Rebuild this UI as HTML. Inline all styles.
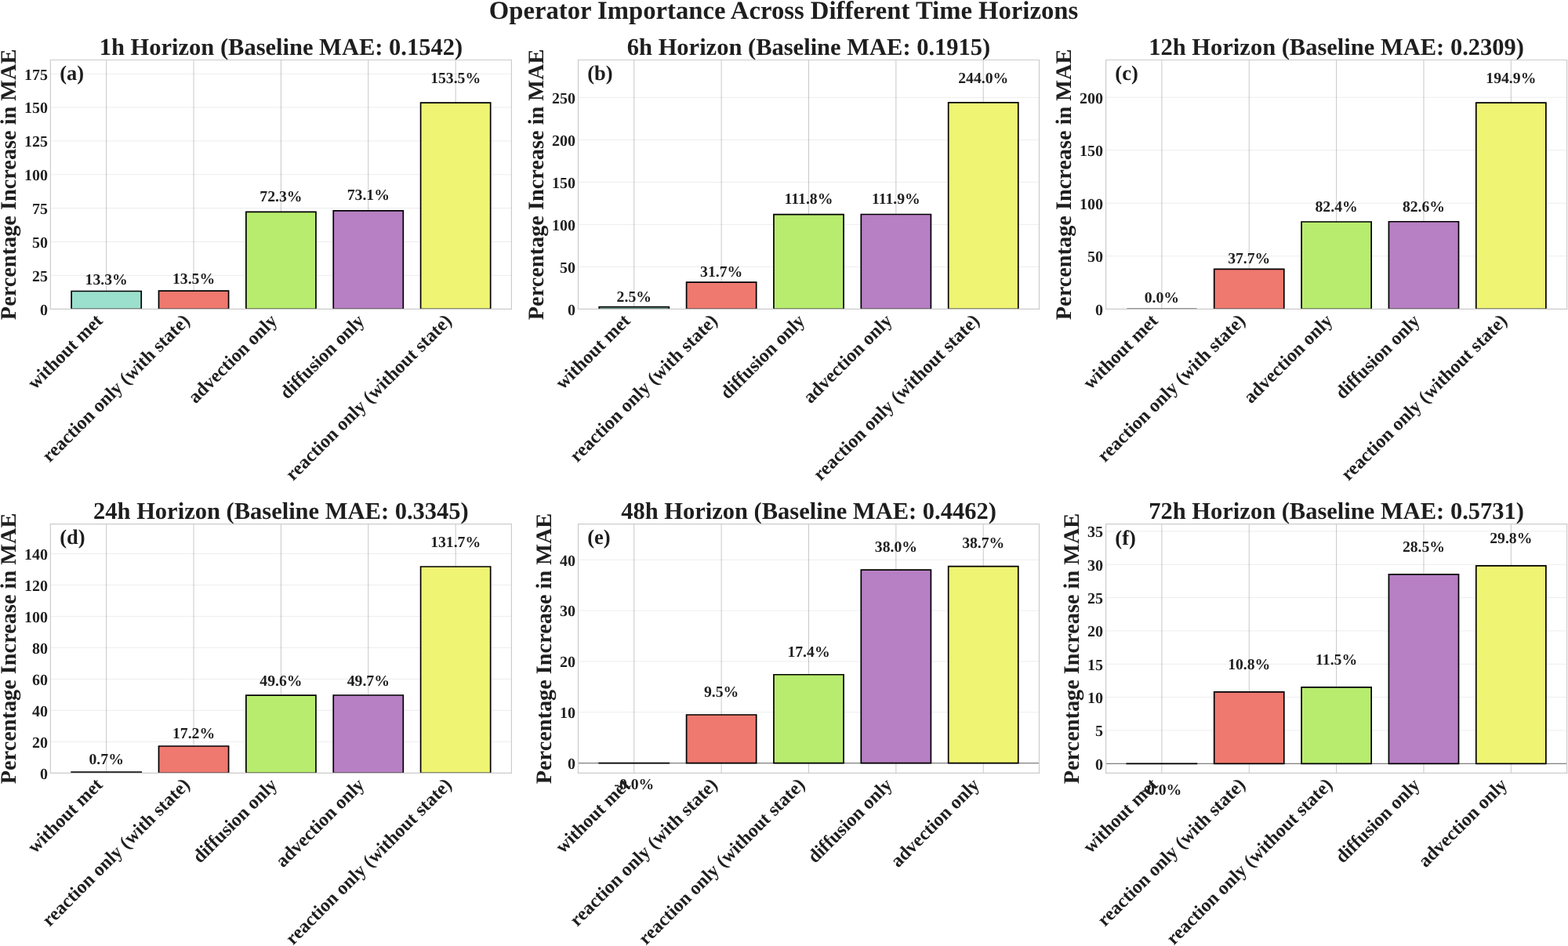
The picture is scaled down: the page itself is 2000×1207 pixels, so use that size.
<!DOCTYPE html>
<html><head><meta charset="utf-8"><title>Operator Importance Across Different Time Horizons</title>
<style>html,body{margin:0;padding:0;background:#fff;overflow:hidden;width:2000px;height:1207px;}svg{display:block;}
text{font-family:"Liberation Serif",serif;text-rendering:geometricPrecision;}</style></head>
<body>
<svg width="2000" height="1207" viewBox="0 0 2000 1207" version="1.1">
<defs>
<style type="text/css">*{stroke-linejoin: round; stroke-linecap: butt}</style>
</defs>
<g id="figure_1">
<g id="patch_1">
<path d="M 0 1207  L 2000 1207  L 2000 0  L 0 0  z
" style="fill: #ffffff"/>
</g>
<g id="axes_1">
<g id="patch_2">
<path d="M 64.4 394.3  L 652.4 394.3  L 652.4 76.5  L 64.4 76.5  z
" style="fill: #ffffff"/>
</g>
<g id="matplotlib.axis_1">
<g id="xtick_1">
<g id="line2d_1">
<path d="M 135.672727 394.3  L 135.672727 76.5  " clip-path="url(#p8fc269b6f9)" style="fill: none; stroke: #c8c8c8; stroke-linecap: square"/>
</g>
<g id="line2d_2"/>
<g id="text_1">
<text style="font-weight: 700; font-size: 24px; font-family: 'Liberation Serif', serif; fill: #1e1e1e" transform="translate(44.864307 497.770201) rotate(-45)">without met</text>
</g>
</g>
<g id="xtick_2">
<g id="line2d_3">
<path d="M 247.036364 394.3  L 247.036364 76.5  " clip-path="url(#p8fc269b6f9)" style="fill: none; stroke: #c8c8c8; stroke-linecap: square"/>
</g>
<g id="line2d_4"/>
<g id="text_2">
<text style="font-weight: 700; font-size: 24px; font-family: 'Liberation Serif', serif; fill: #1e1e1e" transform="translate(63.162968 590.787446) rotate(-45)">reaction only (with state)</text>
</g>
</g>
<g id="xtick_3">
<g id="line2d_5">
<path d="M 358.4 394.3  L 358.4 76.5  " clip-path="url(#p8fc269b6f9)" style="fill: none; stroke: #c8c8c8; stroke-linecap: square"/>
</g>
<g id="line2d_6"/>
<g id="text_3">
<text style="font-weight: 700; font-size: 24px; font-family: 'Liberation Serif', serif; fill: #1e1e1e" transform="translate(249.610738 515.703312) rotate(-45)">advection only</text>
</g>
</g>
<g id="xtick_4">
<g id="line2d_7">
<path d="M 469.763636 394.3  L 469.763636 76.5  " clip-path="url(#p8fc269b6f9)" style="fill: none; stroke: #c8c8c8; stroke-linecap: square"/>
</g>
<g id="line2d_8"/>
<g id="text_4">
<text style="font-weight: 700; font-size: 24px; font-family: 'Liberation Serif', serif; fill: #1e1e1e" transform="translate(366.603828 510.246216) rotate(-45)">diffusion only</text>
</g>
</g>
<g id="xtick_5">
<g id="line2d_9">
<path d="M 581.127273 394.3  L 581.127273 76.5  " clip-path="url(#p8fc269b6f9)" style="fill: none; stroke: #c8c8c8; stroke-linecap: square"/>
</g>
<g id="line2d_10"/>
<g id="text_5">
<text style="font-weight: 700; font-size: 24px; font-family: 'Liberation Serif', serif; fill: #1e1e1e" transform="translate(373.680705 614.360618) rotate(-45)">reaction only (without state)</text>
</g>
</g>
</g>
<g id="matplotlib.axis_2">
<g id="ytick_1">
<g id="line2d_11">
<path d="M 64.4 394.3  L 652.4 394.3  " clip-path="url(#p8fc269b6f9)" style="fill: none; stroke: #000000; stroke-opacity: 0.075; stroke-linecap: square"/>
</g>
<g id="line2d_12"/>
<g id="text_6">
<text style="font-weight: 700; font-size: 20px; font-family: 'Liberation Serif', serif; text-anchor: end; fill: #1e1e1e" x="60.9" y="401.739063" transform="rotate(-0 60.9 401.739063)">0</text>
</g>
</g>
<g id="ytick_2">
<g id="line2d_13">
<path d="M 64.4 351.423583  L 652.4 351.423583  " clip-path="url(#p8fc269b6f9)" style="fill: none; stroke: #000000; stroke-opacity: 0.075; stroke-linecap: square"/>
</g>
<g id="line2d_14"/>
<g id="text_7">
<text style="font-weight: 700; font-size: 20px; font-family: 'Liberation Serif', serif; text-anchor: end; fill: #1e1e1e" x="60.9" y="358.862646" transform="rotate(-0 60.9 358.862646)">25</text>
</g>
</g>
<g id="ytick_3">
<g id="line2d_15">
<path d="M 64.4 308.547167  L 652.4 308.547167  " clip-path="url(#p8fc269b6f9)" style="fill: none; stroke: #000000; stroke-opacity: 0.075; stroke-linecap: square"/>
</g>
<g id="line2d_16"/>
<g id="text_8">
<text style="font-weight: 700; font-size: 20px; font-family: 'Liberation Serif', serif; text-anchor: end; fill: #1e1e1e" x="60.9" y="315.986229" transform="rotate(-0 60.9 315.986229)">50</text>
</g>
</g>
<g id="ytick_4">
<g id="line2d_17">
<path d="M 64.4 265.67075  L 652.4 265.67075  " clip-path="url(#p8fc269b6f9)" style="fill: none; stroke: #000000; stroke-opacity: 0.075; stroke-linecap: square"/>
</g>
<g id="line2d_18"/>
<g id="text_9">
<text style="font-weight: 700; font-size: 20px; font-family: 'Liberation Serif', serif; text-anchor: end; fill: #1e1e1e" x="60.9" y="273.109813" transform="rotate(-0 60.9 273.109813)">75</text>
</g>
</g>
<g id="ytick_5">
<g id="line2d_19">
<path d="M 64.4 222.794334  L 652.4 222.794334  " clip-path="url(#p8fc269b6f9)" style="fill: none; stroke: #000000; stroke-opacity: 0.075; stroke-linecap: square"/>
</g>
<g id="line2d_20"/>
<g id="text_10">
<text style="font-weight: 700; font-size: 20px; font-family: 'Liberation Serif', serif; text-anchor: end; fill: #1e1e1e" x="60.9" y="230.233396" transform="rotate(-0 60.9 230.233396)">100</text>
</g>
</g>
<g id="ytick_6">
<g id="line2d_21">
<path d="M 64.4 179.917917  L 652.4 179.917917  " clip-path="url(#p8fc269b6f9)" style="fill: none; stroke: #000000; stroke-opacity: 0.075; stroke-linecap: square"/>
</g>
<g id="line2d_22"/>
<g id="text_11">
<text style="font-weight: 700; font-size: 20px; font-family: 'Liberation Serif', serif; text-anchor: end; fill: #1e1e1e" x="60.9" y="187.356979" transform="rotate(-0 60.9 187.356979)">125</text>
</g>
</g>
<g id="ytick_7">
<g id="line2d_23">
<path d="M 64.4 137.0415  L 652.4 137.0415  " clip-path="url(#p8fc269b6f9)" style="fill: none; stroke: #000000; stroke-opacity: 0.075; stroke-linecap: square"/>
</g>
<g id="line2d_24"/>
<g id="text_12">
<text style="font-weight: 700; font-size: 20px; font-family: 'Liberation Serif', serif; text-anchor: end; fill: #1e1e1e" x="60.9" y="144.480563" transform="rotate(-0 60.9 144.480563)">150</text>
</g>
</g>
<g id="ytick_8">
<g id="line2d_25">
<path d="M 64.4 94.165084  L 652.4 94.165084  " clip-path="url(#p8fc269b6f9)" style="fill: none; stroke: #000000; stroke-opacity: 0.075; stroke-linecap: square"/>
</g>
<g id="line2d_26"/>
<g id="text_13">
<text style="font-weight: 700; font-size: 20px; font-family: 'Liberation Serif', serif; text-anchor: end; fill: #1e1e1e" x="60.9" y="101.604146" transform="rotate(-0 60.9 101.604146)">175</text>
</g>
</g>
<g id="text_14">
<text style="font-weight: 700; font-size: 28.3px; font-family: 'Liberation Serif', serif; text-anchor: middle; fill: #1e1e1e" x="19.851891" y="235.4" transform="rotate(-90 19.851891 235.4)">Percentage Increase in MAE</text>
</g>
</g>
<g id="patch_3">
<path d="M 91.127273 394.3  L 180.218182 394.3  L 180.218182 371.489746  L 91.127273 371.489746  z
" clip-path="url(#p8fc269b6f9)" style="fill: #9be0cd; stroke: #000000; stroke-width: 1.7; stroke-linejoin: miter"/>
</g>
<g id="patch_4">
<path d="M 202.490909 394.3  L 291.581818 394.3  L 291.581818 371.146735  L 202.490909 371.146735  z
" clip-path="url(#p8fc269b6f9)" style="fill: #ef786f; stroke: #000000; stroke-width: 1.7; stroke-linejoin: miter"/>
</g>
<g id="patch_5">
<path d="M 313.854545 394.3  L 402.945455 394.3  L 402.945455 270.301403  L 313.854545 270.301403  z
" clip-path="url(#p8fc269b6f9)" style="fill: #b8ec6e; stroke: #000000; stroke-width: 1.7; stroke-linejoin: miter"/>
</g>
<g id="patch_6">
<path d="M 425.218182 394.3  L 514.309091 394.3  L 514.309091 268.929358  L 425.218182 268.929358  z
" clip-path="url(#p8fc269b6f9)" style="fill: #b77fc4; stroke: #000000; stroke-width: 1.7; stroke-linejoin: miter"/>
</g>
<g id="patch_7">
<path d="M 536.581818 394.3  L 625.672727 394.3  L 625.672727 131.038802  L 536.581818 131.038802  z
" clip-path="url(#p8fc269b6f9)" style="fill: #eff473; stroke: #000000; stroke-width: 1.7; stroke-linejoin: miter"/>
</g>
<g id="text_15">
<text style="font-weight: 700; font-size: 26.5px; font-family: 'Liberation Serif', serif; text-anchor: start; fill: #1e1e1e" x="76.16" y="102.244516" transform="rotate(-0 76.16 102.244516)">(a)</text>
</g>
<g id="text_16">
<text style="font-weight: 700; font-size: 19.7px; font-family: 'Liberation Serif', serif; text-anchor: middle; fill: #1e1e1e" x="135.672727" y="362.549092" transform="rotate(-0 135.672727 362.549092)">13.3%</text>
</g>
<g id="text_17">
<text style="font-weight: 700; font-size: 19.7px; font-family: 'Liberation Serif', serif; text-anchor: middle; fill: #1e1e1e" x="247.036364" y="362.206081" transform="rotate(-0 247.036364 362.206081)">13.5%</text>
</g>
<g id="text_18">
<text style="font-weight: 700; font-size: 19.7px; font-family: 'Liberation Serif', serif; text-anchor: middle; fill: #1e1e1e" x="358.4" y="256.586031" transform="rotate(-0 358.4 256.586031)">72.3%</text>
</g>
<g id="text_19">
<text style="font-weight: 700; font-size: 19.7px; font-family: 'Liberation Serif', serif; text-anchor: middle; fill: #1e1e1e" x="469.763636" y="255.104222" transform="rotate(-0 469.763636 255.104222)">73.1%</text>
</g>
<g id="text_20">
<text style="font-weight: 700; font-size: 19.7px; font-family: 'Liberation Serif', serif; text-anchor: middle; fill: #1e1e1e" x="581.127273" y="106.182422" transform="rotate(-0 581.127273 106.182422)">153.5%</text>
</g>
<g id="patch_8">
<path d="M 64.4 394.3  L 64.4 76.5  " style="fill: none; stroke: #cccccc; stroke-width: 1.2; stroke-linejoin: miter; stroke-linecap: square"/>
</g>
<g id="patch_9">
<path d="M 652.4 394.3  L 652.4 76.5  " style="fill: none; stroke: #cccccc; stroke-width: 1.2; stroke-linejoin: miter; stroke-linecap: square"/>
</g>
<g id="patch_10">
<path d="M 64.4 394.3  L 652.4 394.3  " style="fill: none; stroke: #cccccc; stroke-width: 1.2; stroke-linejoin: miter; stroke-linecap: square"/>
</g>
<g id="patch_11">
<path d="M 64.4 76.5  L 652.4 76.5  " style="fill: none; stroke: #cccccc; stroke-width: 1.2; stroke-linejoin: miter; stroke-linecap: square"/>
</g>
<g id="text_21">
<text style="font-weight: 700; font-size: 30.5px; font-family: 'Liberation Serif', serif; text-anchor: middle; fill: #1e1e1e" x="358.4" y="70.004453" transform="rotate(-0 358.4 70.004453)">1h Horizon (Baseline MAE: 0.1542)</text>
</g>
</g>
<g id="axes_2">
<g id="patch_12">
<path d="M 737.5 394.3  L 1325.5 394.3  L 1325.5 76.5  L 737.5 76.5  z
" style="fill: #ffffff"/>
</g>
<g id="matplotlib.axis_3">
<g id="xtick_6">
<g id="line2d_27">
<path d="M 808.772727 394.3  L 808.772727 76.5  " clip-path="url(#p56052e3ebc)" style="fill: none; stroke: #c8c8c8; stroke-linecap: square"/>
</g>
<g id="line2d_28"/>
<g id="text_22">
<text style="font-weight: 700; font-size: 24px; font-family: 'Liberation Serif', serif; fill: #1e1e1e" transform="translate(717.964307 497.770201) rotate(-45)">without met</text>
</g>
</g>
<g id="xtick_7">
<g id="line2d_29">
<path d="M 920.136364 394.3  L 920.136364 76.5  " clip-path="url(#p56052e3ebc)" style="fill: none; stroke: #c8c8c8; stroke-linecap: square"/>
</g>
<g id="line2d_30"/>
<g id="text_23">
<text style="font-weight: 700; font-size: 24px; font-family: 'Liberation Serif', serif; fill: #1e1e1e" transform="translate(736.262968 590.787446) rotate(-45)">reaction only (with state)</text>
</g>
</g>
<g id="xtick_8">
<g id="line2d_31">
<path d="M 1031.5 394.3  L 1031.5 76.5  " clip-path="url(#p56052e3ebc)" style="fill: none; stroke: #c8c8c8; stroke-linecap: square"/>
</g>
<g id="line2d_32"/>
<g id="text_24">
<text style="font-weight: 700; font-size: 24px; font-family: 'Liberation Serif', serif; fill: #1e1e1e" transform="translate(928.340192 510.246216) rotate(-45)">diffusion only</text>
</g>
</g>
<g id="xtick_9">
<g id="line2d_33">
<path d="M 1142.863636 394.3  L 1142.863636 76.5  " clip-path="url(#p56052e3ebc)" style="fill: none; stroke: #c8c8c8; stroke-linecap: square"/>
</g>
<g id="line2d_34"/>
<g id="text_25">
<text style="font-weight: 700; font-size: 24px; font-family: 'Liberation Serif', serif; fill: #1e1e1e" transform="translate(1034.074374 515.703312) rotate(-45)">advection only</text>
</g>
</g>
<g id="xtick_10">
<g id="line2d_35">
<path d="M 1254.227273 394.3  L 1254.227273 76.5  " clip-path="url(#p56052e3ebc)" style="fill: none; stroke: #c8c8c8; stroke-linecap: square"/>
</g>
<g id="line2d_36"/>
<g id="text_26">
<text style="font-weight: 700; font-size: 24px; font-family: 'Liberation Serif', serif; fill: #1e1e1e" transform="translate(1046.780705 614.360618) rotate(-45)">reaction only (without state)</text>
</g>
</g>
</g>
<g id="matplotlib.axis_4">
<g id="ytick_9">
<g id="line2d_37">
<path d="M 737.5 394.3  L 1325.5 394.3  " clip-path="url(#p56052e3ebc)" style="fill: none; stroke: #000000; stroke-opacity: 0.075; stroke-linecap: square"/>
</g>
<g id="line2d_38"/>
<g id="text_27">
<text style="font-weight: 700; font-size: 20px; font-family: 'Liberation Serif', serif; text-anchor: end; fill: #1e1e1e" x="734" y="401.739063" transform="rotate(-0 734 401.739063)">0</text>
</g>
</g>
<g id="ytick_10">
<g id="line2d_39">
<path d="M 737.5 340.325815  L 1325.5 340.325815  " clip-path="url(#p56052e3ebc)" style="fill: none; stroke: #000000; stroke-opacity: 0.075; stroke-linecap: square"/>
</g>
<g id="line2d_40"/>
<g id="text_28">
<text style="font-weight: 700; font-size: 20px; font-family: 'Liberation Serif', serif; text-anchor: end; fill: #1e1e1e" x="734" y="347.764878" transform="rotate(-0 734 347.764878)">50</text>
</g>
</g>
<g id="ytick_11">
<g id="line2d_41">
<path d="M 737.5 286.35163  L 1325.5 286.35163  " clip-path="url(#p56052e3ebc)" style="fill: none; stroke: #000000; stroke-opacity: 0.075; stroke-linecap: square"/>
</g>
<g id="line2d_42"/>
<g id="text_29">
<text style="font-weight: 700; font-size: 20px; font-family: 'Liberation Serif', serif; text-anchor: end; fill: #1e1e1e" x="734" y="293.790693" transform="rotate(-0 734 293.790693)">100</text>
</g>
</g>
<g id="ytick_12">
<g id="line2d_43">
<path d="M 737.5 232.377446  L 1325.5 232.377446  " clip-path="url(#p56052e3ebc)" style="fill: none; stroke: #000000; stroke-opacity: 0.075; stroke-linecap: square"/>
</g>
<g id="line2d_44"/>
<g id="text_30">
<text style="font-weight: 700; font-size: 20px; font-family: 'Liberation Serif', serif; text-anchor: end; fill: #1e1e1e" x="734" y="239.816508" transform="rotate(-0 734 239.816508)">150</text>
</g>
</g>
<g id="ytick_13">
<g id="line2d_45">
<path d="M 737.5 178.403261  L 1325.5 178.403261  " clip-path="url(#p56052e3ebc)" style="fill: none; stroke: #000000; stroke-opacity: 0.075; stroke-linecap: square"/>
</g>
<g id="line2d_46"/>
<g id="text_31">
<text style="font-weight: 700; font-size: 20px; font-family: 'Liberation Serif', serif; text-anchor: end; fill: #1e1e1e" x="734" y="185.842323" transform="rotate(-0 734 185.842323)">200</text>
</g>
</g>
<g id="ytick_14">
<g id="line2d_47">
<path d="M 737.5 124.429076  L 1325.5 124.429076  " clip-path="url(#p56052e3ebc)" style="fill: none; stroke: #000000; stroke-opacity: 0.075; stroke-linecap: square"/>
</g>
<g id="line2d_48"/>
<g id="text_32">
<text style="font-weight: 700; font-size: 20px; font-family: 'Liberation Serif', serif; text-anchor: end; fill: #1e1e1e" x="734" y="131.868139" transform="rotate(-0 734 131.868139)">250</text>
</g>
</g>
<g id="text_33">
<text style="font-weight: 700; font-size: 28.3px; font-family: 'Liberation Serif', serif; text-anchor: middle; fill: #1e1e1e" x="692.951891" y="235.4" transform="rotate(-90 692.951891 235.4)">Percentage Increase in MAE</text>
</g>
</g>
<g id="patch_13">
<path d="M 764.227273 394.3  L 853.318182 394.3  L 853.318182 391.601291  L 764.227273 391.601291  z
" clip-path="url(#p56052e3ebc)" style="fill: #9be0cd; stroke: #000000; stroke-width: 1.7; stroke-linejoin: miter"/>
</g>
<g id="patch_14">
<path d="M 875.590909 394.3  L 964.681818 394.3  L 964.681818 360.080367  L 875.590909 360.080367  z
" clip-path="url(#p56052e3ebc)" style="fill: #ef786f; stroke: #000000; stroke-width: 1.7; stroke-linejoin: miter"/>
</g>
<g id="patch_15">
<path d="M 986.954545 394.3  L 1076.045455 394.3  L 1076.045455 273.613723  L 986.954545 273.613723  z
" clip-path="url(#p56052e3ebc)" style="fill: #b8ec6e; stroke: #000000; stroke-width: 1.7; stroke-linejoin: miter"/>
</g>
<g id="patch_16">
<path d="M 1098.318182 394.3  L 1187.409091 394.3  L 1187.409091 273.505774  L 1098.318182 273.505774  z
" clip-path="url(#p56052e3ebc)" style="fill: #b77fc4; stroke: #000000; stroke-width: 1.7; stroke-linejoin: miter"/>
</g>
<g id="patch_17">
<path d="M 1209.681818 394.3  L 1298.772727 394.3  L 1298.772727 130.905978  L 1209.681818 130.905978  z
" clip-path="url(#p56052e3ebc)" style="fill: #eff473; stroke: #000000; stroke-width: 1.7; stroke-linejoin: miter"/>
</g>
<g id="text_34">
<text style="font-weight: 700; font-size: 26.5px; font-family: 'Liberation Serif', serif; text-anchor: start; fill: #1e1e1e" x="749.26" y="102.244516" transform="rotate(-0 749.26 102.244516)">(b)</text>
</g>
<g id="text_35">
<text style="font-weight: 700; font-size: 19.7px; font-family: 'Liberation Serif', serif; text-anchor: middle; fill: #1e1e1e" x="808.772727" y="384.567355" transform="rotate(-0 808.772727 384.567355)">2.5%</text>
</g>
<g id="text_36">
<text style="font-weight: 700; font-size: 19.7px; font-family: 'Liberation Serif', serif; text-anchor: middle; fill: #1e1e1e" x="920.136364" y="353.046431" transform="rotate(-0 920.136364 353.046431)">31.7%</text>
</g>
<g id="text_37">
<text style="font-weight: 700; font-size: 19.7px; font-family: 'Liberation Serif', serif; text-anchor: middle; fill: #1e1e1e" x="1031.5" y="260.163336" transform="rotate(-0 1031.5 260.163336)">111.8%</text>
</g>
<g id="text_38">
<text style="font-weight: 700; font-size: 19.7px; font-family: 'Liberation Serif', serif; text-anchor: middle; fill: #1e1e1e" x="1142.863636" y="260.046752" transform="rotate(-0 1142.863636 260.046752)">111.9%</text>
</g>
<g id="text_39">
<text style="font-weight: 700; font-size: 19.7px; font-family: 'Liberation Serif', serif; text-anchor: middle; fill: #1e1e1e" x="1254.227273" y="106.038972" transform="rotate(-0 1254.227273 106.038972)">244.0%</text>
</g>
<g id="patch_18">
<path d="M 737.5 394.3  L 737.5 76.5  " style="fill: none; stroke: #cccccc; stroke-width: 1.2; stroke-linejoin: miter; stroke-linecap: square"/>
</g>
<g id="patch_19">
<path d="M 1325.5 394.3  L 1325.5 76.5  " style="fill: none; stroke: #cccccc; stroke-width: 1.2; stroke-linejoin: miter; stroke-linecap: square"/>
</g>
<g id="patch_20">
<path d="M 737.5 394.3  L 1325.5 394.3  " style="fill: none; stroke: #cccccc; stroke-width: 1.2; stroke-linejoin: miter; stroke-linecap: square"/>
</g>
<g id="patch_21">
<path d="M 737.5 76.5  L 1325.5 76.5  " style="fill: none; stroke: #cccccc; stroke-width: 1.2; stroke-linejoin: miter; stroke-linecap: square"/>
</g>
<g id="text_40">
<text style="font-weight: 700; font-size: 30.5px; font-family: 'Liberation Serif', serif; text-anchor: middle; fill: #1e1e1e" x="1031.5" y="70.004453" transform="rotate(-0 1031.5 70.004453)">6h Horizon (Baseline MAE: 0.1915)</text>
</g>
</g>
<g id="axes_3">
<g id="patch_22">
<path d="M 1410.6 394.3  L 1998.6 394.3  L 1998.6 76.5  L 1410.6 76.5  z
" style="fill: #ffffff"/>
</g>
<g id="matplotlib.axis_5">
<g id="xtick_11">
<g id="line2d_49">
<path d="M 1481.872727 394.3  L 1481.872727 76.5  " clip-path="url(#p4278c72d68)" style="fill: none; stroke: #c8c8c8; stroke-linecap: square"/>
</g>
<g id="line2d_50"/>
<g id="text_41">
<text style="font-weight: 700; font-size: 24px; font-family: 'Liberation Serif', serif; fill: #1e1e1e" transform="translate(1391.064307 497.770201) rotate(-45)">without met</text>
</g>
</g>
<g id="xtick_12">
<g id="line2d_51">
<path d="M 1593.236364 394.3  L 1593.236364 76.5  " clip-path="url(#p4278c72d68)" style="fill: none; stroke: #c8c8c8; stroke-linecap: square"/>
</g>
<g id="line2d_52"/>
<g id="text_42">
<text style="font-weight: 700; font-size: 24px; font-family: 'Liberation Serif', serif; fill: #1e1e1e" transform="translate(1409.362968 590.787446) rotate(-45)">reaction only (with state)</text>
</g>
</g>
<g id="xtick_13">
<g id="line2d_53">
<path d="M 1704.6 394.3  L 1704.6 76.5  " clip-path="url(#p4278c72d68)" style="fill: none; stroke: #c8c8c8; stroke-linecap: square"/>
</g>
<g id="line2d_54"/>
<g id="text_43">
<text style="font-weight: 700; font-size: 24px; font-family: 'Liberation Serif', serif; fill: #1e1e1e" transform="translate(1595.810738 515.703312) rotate(-45)">advection only</text>
</g>
</g>
<g id="xtick_14">
<g id="line2d_55">
<path d="M 1815.963636 394.3  L 1815.963636 76.5  " clip-path="url(#p4278c72d68)" style="fill: none; stroke: #c8c8c8; stroke-linecap: square"/>
</g>
<g id="line2d_56"/>
<g id="text_44">
<text style="font-weight: 700; font-size: 24px; font-family: 'Liberation Serif', serif; fill: #1e1e1e" transform="translate(1712.803828 510.246216) rotate(-45)">diffusion only</text>
</g>
</g>
<g id="xtick_15">
<g id="line2d_57">
<path d="M 1927.327273 394.3  L 1927.327273 76.5  " clip-path="url(#p4278c72d68)" style="fill: none; stroke: #c8c8c8; stroke-linecap: square"/>
</g>
<g id="line2d_58"/>
<g id="text_45">
<text style="font-weight: 700; font-size: 24px; font-family: 'Liberation Serif', serif; fill: #1e1e1e" transform="translate(1719.880705 614.360618) rotate(-45)">reaction only (without state)</text>
</g>
</g>
</g>
<g id="matplotlib.axis_6">
<g id="ytick_15">
<g id="line2d_59">
<path d="M 1410.6 394.3  L 1998.6 394.3  " clip-path="url(#p4278c72d68)" style="fill: none; stroke: #000000; stroke-opacity: 0.075; stroke-linecap: square"/>
</g>
<g id="line2d_60"/>
<g id="text_46">
<text style="font-weight: 700; font-size: 20px; font-family: 'Liberation Serif', serif; text-anchor: end; fill: #1e1e1e" x="1407.1" y="401.739063" transform="rotate(-0 1407.1 401.739063)">0</text>
</g>
</g>
<g id="ytick_16">
<g id="line2d_61">
<path d="M 1410.6 326.769188  L 1998.6 326.769188  " clip-path="url(#p4278c72d68)" style="fill: none; stroke: #000000; stroke-opacity: 0.075; stroke-linecap: square"/>
</g>
<g id="line2d_62"/>
<g id="text_47">
<text style="font-weight: 700; font-size: 20px; font-family: 'Liberation Serif', serif; text-anchor: end; fill: #1e1e1e" x="1407.1" y="334.208251" transform="rotate(-0 1407.1 334.208251)">50</text>
</g>
</g>
<g id="ytick_17">
<g id="line2d_63">
<path d="M 1410.6 259.238377  L 1998.6 259.238377  " clip-path="url(#p4278c72d68)" style="fill: none; stroke: #000000; stroke-opacity: 0.075; stroke-linecap: square"/>
</g>
<g id="line2d_64"/>
<g id="text_48">
<text style="font-weight: 700; font-size: 20px; font-family: 'Liberation Serif', serif; text-anchor: end; fill: #1e1e1e" x="1407.1" y="266.677439" transform="rotate(-0 1407.1 266.677439)">100</text>
</g>
</g>
<g id="ytick_18">
<g id="line2d_65">
<path d="M 1410.6 191.707565  L 1998.6 191.707565  " clip-path="url(#p4278c72d68)" style="fill: none; stroke: #000000; stroke-opacity: 0.075; stroke-linecap: square"/>
</g>
<g id="line2d_66"/>
<g id="text_49">
<text style="font-weight: 700; font-size: 20px; font-family: 'Liberation Serif', serif; text-anchor: end; fill: #1e1e1e" x="1407.1" y="199.146627" transform="rotate(-0 1407.1 199.146627)">150</text>
</g>
</g>
<g id="ytick_19">
<g id="line2d_67">
<path d="M 1410.6 124.176753  L 1998.6 124.176753  " clip-path="url(#p4278c72d68)" style="fill: none; stroke: #000000; stroke-opacity: 0.075; stroke-linecap: square"/>
</g>
<g id="line2d_68"/>
<g id="text_50">
<text style="font-weight: 700; font-size: 20px; font-family: 'Liberation Serif', serif; text-anchor: end; fill: #1e1e1e" x="1407.1" y="131.615816" transform="rotate(-0 1407.1 131.615816)">200</text>
</g>
</g>
<g id="text_51">
<text style="font-weight: 700; font-size: 28.3px; font-family: 'Liberation Serif', serif; text-anchor: middle; fill: #1e1e1e" x="1366.051891" y="235.4" transform="rotate(-90 1366.051891 235.4)">Percentage Increase in MAE</text>
</g>
</g>
<g id="patch_23">
<path d="M 1437.327273 394.3  L 1526.418182 394.3  L 1526.418182 394.3  L 1437.327273 394.3  z
" clip-path="url(#p4278c72d68)" style="fill: #9be0cd; stroke: #000000; stroke-width: 1.7; stroke-linejoin: miter"/>
</g>
<g id="patch_24">
<path d="M 1548.690909 394.3  L 1637.781818 394.3  L 1637.781818 343.381768  L 1548.690909 343.381768  z
" clip-path="url(#p4278c72d68)" style="fill: #ef786f; stroke: #000000; stroke-width: 1.7; stroke-linejoin: miter"/>
</g>
<g id="patch_25">
<path d="M 1660.054545 394.3  L 1749.145455 394.3  L 1749.145455 283.009222  L 1660.054545 283.009222  z
" clip-path="url(#p4278c72d68)" style="fill: #b8ec6e; stroke: #000000; stroke-width: 1.7; stroke-linejoin: miter"/>
</g>
<g id="patch_26">
<path d="M 1771.418182 394.3  L 1860.509091 394.3  L 1860.509091 282.739099  L 1771.418182 282.739099  z
" clip-path="url(#p4278c72d68)" style="fill: #b77fc4; stroke: #000000; stroke-width: 1.7; stroke-linejoin: miter"/>
</g>
<g id="patch_27">
<path d="M 1882.781818 394.3  L 1971.872727 394.3  L 1971.872727 131.064896  L 1882.781818 131.064896  z
" clip-path="url(#p4278c72d68)" style="fill: #eff473; stroke: #000000; stroke-width: 1.7; stroke-linejoin: miter"/>
</g>
<g id="text_52">
<text style="font-weight: 700; font-size: 26.5px; font-family: 'Liberation Serif', serif; text-anchor: start; fill: #1e1e1e" x="1422.36" y="102.244516" transform="rotate(-0 1422.36 102.244516)">(c)</text>
</g>
<g id="text_53">
<text style="font-weight: 700; font-size: 19.7px; font-family: 'Liberation Serif', serif; text-anchor: middle; fill: #1e1e1e" x="1481.872727" y="386.452667" transform="rotate(-0 1481.872727 386.452667)">0.0%</text>
</g>
<g id="text_54">
<text style="font-weight: 700; font-size: 19.7px; font-family: 'Liberation Serif', serif; text-anchor: middle; fill: #1e1e1e" x="1593.236364" y="335.512825" transform="rotate(-0 1593.236364 335.512825)">37.7%</text>
</g>
<g id="text_55">
<text style="font-weight: 700; font-size: 19.7px; font-family: 'Liberation Serif', serif; text-anchor: middle; fill: #1e1e1e" x="1704.6" y="270.310476" transform="rotate(-0 1704.6 270.310476)">82.4%</text>
</g>
<g id="text_56">
<text style="font-weight: 700; font-size: 19.7px; font-family: 'Liberation Serif', serif; text-anchor: middle; fill: #1e1e1e" x="1815.963636" y="270.018743" transform="rotate(-0 1815.963636 270.018743)">82.6%</text>
</g>
<g id="text_57">
<text style="font-weight: 700; font-size: 19.7px; font-family: 'Liberation Serif', serif; text-anchor: middle; fill: #1e1e1e" x="1927.327273" y="106.210603" transform="rotate(-0 1927.327273 106.210603)">194.9%</text>
</g>
<g id="patch_28">
<path d="M 1410.6 394.3  L 1410.6 76.5  " style="fill: none; stroke: #cccccc; stroke-width: 1.2; stroke-linejoin: miter; stroke-linecap: square"/>
</g>
<g id="patch_29">
<path d="M 1998.6 394.3  L 1998.6 76.5  " style="fill: none; stroke: #cccccc; stroke-width: 1.2; stroke-linejoin: miter; stroke-linecap: square"/>
</g>
<g id="patch_30">
<path d="M 1410.6 394.3  L 1998.6 394.3  " style="fill: none; stroke: #cccccc; stroke-width: 1.2; stroke-linejoin: miter; stroke-linecap: square"/>
</g>
<g id="patch_31">
<path d="M 1410.6 76.5  L 1998.6 76.5  " style="fill: none; stroke: #cccccc; stroke-width: 1.2; stroke-linejoin: miter; stroke-linecap: square"/>
</g>
<g id="text_58">
<text style="font-weight: 700; font-size: 30.5px; font-family: 'Liberation Serif', serif; text-anchor: middle; fill: #1e1e1e" x="1704.6" y="70.004453" transform="rotate(-0 1704.6 70.004453)">12h Horizon (Baseline MAE: 0.2309)</text>
</g>
</g>
<g id="axes_4">
<g id="patch_32">
<path d="M 64.4 986.4  L 652.4 986.4  L 652.4 668.6  L 64.4 668.6  z
" style="fill: #ffffff"/>
</g>
<g id="matplotlib.axis_7">
<g id="xtick_16">
<g id="line2d_69">
<path d="M 135.672727 986.4  L 135.672727 668.6  " clip-path="url(#p377dfd3fb7)" style="fill: none; stroke: #c8c8c8; stroke-linecap: square"/>
</g>
<g id="line2d_70"/>
<g id="text_59">
<text style="font-weight: 700; font-size: 24px; font-family: 'Liberation Serif', serif; fill: #1e1e1e" transform="translate(44.864307 1089.870201) rotate(-45)">without met</text>
</g>
</g>
<g id="xtick_17">
<g id="line2d_71">
<path d="M 247.036364 986.4  L 247.036364 668.6  " clip-path="url(#p377dfd3fb7)" style="fill: none; stroke: #c8c8c8; stroke-linecap: square"/>
</g>
<g id="line2d_72"/>
<g id="text_60">
<text style="font-weight: 700; font-size: 24px; font-family: 'Liberation Serif', serif; fill: #1e1e1e" transform="translate(63.162968 1182.887446) rotate(-45)">reaction only (with state)</text>
</g>
</g>
<g id="xtick_18">
<g id="line2d_73">
<path d="M 358.4 986.4  L 358.4 668.6  " clip-path="url(#p377dfd3fb7)" style="fill: none; stroke: #c8c8c8; stroke-linecap: square"/>
</g>
<g id="line2d_74"/>
<g id="text_61">
<text style="font-weight: 700; font-size: 24px; font-family: 'Liberation Serif', serif; fill: #1e1e1e" transform="translate(255.240192 1102.346216) rotate(-45)">diffusion only</text>
</g>
</g>
<g id="xtick_19">
<g id="line2d_75">
<path d="M 469.763636 986.4  L 469.763636 668.6  " clip-path="url(#p377dfd3fb7)" style="fill: none; stroke: #c8c8c8; stroke-linecap: square"/>
</g>
<g id="line2d_76"/>
<g id="text_62">
<text style="font-weight: 700; font-size: 24px; font-family: 'Liberation Serif', serif; fill: #1e1e1e" transform="translate(360.974374 1107.803312) rotate(-45)">advection only</text>
</g>
</g>
<g id="xtick_20">
<g id="line2d_77">
<path d="M 581.127273 986.4  L 581.127273 668.6  " clip-path="url(#p377dfd3fb7)" style="fill: none; stroke: #c8c8c8; stroke-linecap: square"/>
</g>
<g id="line2d_78"/>
<g id="text_63">
<text style="font-weight: 700; font-size: 24px; font-family: 'Liberation Serif', serif; fill: #1e1e1e" transform="translate(373.680705 1206.460618) rotate(-45)">reaction only (without state)</text>
</g>
</g>
</g>
<g id="matplotlib.axis_8">
<g id="ytick_20">
<g id="line2d_79">
<path d="M 64.4 986.4  L 652.4 986.4  " clip-path="url(#p377dfd3fb7)" style="fill: none; stroke: #000000; stroke-opacity: 0.075; stroke-linecap: square"/>
</g>
<g id="line2d_80"/>
<g id="text_64">
<text style="font-weight: 700; font-size: 20px; font-family: 'Liberation Serif', serif; text-anchor: end; fill: #1e1e1e" x="60.9" y="993.839063" transform="rotate(-0 60.9 993.839063)">0</text>
</g>
</g>
<g id="ytick_21">
<g id="line2d_81">
<path d="M 64.4 946.4  L 652.4 946.4  " clip-path="url(#p377dfd3fb7)" style="fill: none; stroke: #000000; stroke-opacity: 0.075; stroke-linecap: square"/>
</g>
<g id="line2d_82"/>
<g id="text_65">
<text style="font-weight: 700; font-size: 20px; font-family: 'Liberation Serif', serif; text-anchor: end; fill: #1e1e1e" x="60.9" y="953.839063" transform="rotate(-0 60.9 953.839063)">20</text>
</g>
</g>
<g id="ytick_22">
<g id="line2d_83">
<path d="M 64.4 906.4  L 652.4 906.4  " clip-path="url(#p377dfd3fb7)" style="fill: none; stroke: #000000; stroke-opacity: 0.075; stroke-linecap: square"/>
</g>
<g id="line2d_84"/>
<g id="text_66">
<text style="font-weight: 700; font-size: 20px; font-family: 'Liberation Serif', serif; text-anchor: end; fill: #1e1e1e" x="60.9" y="913.839063" transform="rotate(-0 60.9 913.839063)">40</text>
</g>
</g>
<g id="ytick_23">
<g id="line2d_85">
<path d="M 64.4 866.4  L 652.4 866.4  " clip-path="url(#p377dfd3fb7)" style="fill: none; stroke: #000000; stroke-opacity: 0.075; stroke-linecap: square"/>
</g>
<g id="line2d_86"/>
<g id="text_67">
<text style="font-weight: 700; font-size: 20px; font-family: 'Liberation Serif', serif; text-anchor: end; fill: #1e1e1e" x="60.9" y="873.839063" transform="rotate(-0 60.9 873.839063)">60</text>
</g>
</g>
<g id="ytick_24">
<g id="line2d_87">
<path d="M 64.4 826.4  L 652.4 826.4  " clip-path="url(#p377dfd3fb7)" style="fill: none; stroke: #000000; stroke-opacity: 0.075; stroke-linecap: square"/>
</g>
<g id="line2d_88"/>
<g id="text_68">
<text style="font-weight: 700; font-size: 20px; font-family: 'Liberation Serif', serif; text-anchor: end; fill: #1e1e1e" x="60.9" y="833.839063" transform="rotate(-0 60.9 833.839063)">80</text>
</g>
</g>
<g id="ytick_25">
<g id="line2d_89">
<path d="M 64.4 786.4  L 652.4 786.4  " clip-path="url(#p377dfd3fb7)" style="fill: none; stroke: #000000; stroke-opacity: 0.075; stroke-linecap: square"/>
</g>
<g id="line2d_90"/>
<g id="text_69">
<text style="font-weight: 700; font-size: 20px; font-family: 'Liberation Serif', serif; text-anchor: end; fill: #1e1e1e" x="60.9" y="793.839063" transform="rotate(-0 60.9 793.839063)">100</text>
</g>
</g>
<g id="ytick_26">
<g id="line2d_91">
<path d="M 64.4 746.4  L 652.4 746.4  " clip-path="url(#p377dfd3fb7)" style="fill: none; stroke: #000000; stroke-opacity: 0.075; stroke-linecap: square"/>
</g>
<g id="line2d_92"/>
<g id="text_70">
<text style="font-weight: 700; font-size: 20px; font-family: 'Liberation Serif', serif; text-anchor: end; fill: #1e1e1e" x="60.9" y="753.839063" transform="rotate(-0 60.9 753.839063)">120</text>
</g>
</g>
<g id="ytick_27">
<g id="line2d_93">
<path d="M 64.4 706.4  L 652.4 706.4  " clip-path="url(#p377dfd3fb7)" style="fill: none; stroke: #000000; stroke-opacity: 0.075; stroke-linecap: square"/>
</g>
<g id="line2d_94"/>
<g id="text_71">
<text style="font-weight: 700; font-size: 20px; font-family: 'Liberation Serif', serif; text-anchor: end; fill: #1e1e1e" x="60.9" y="713.839063" transform="rotate(-0 60.9 713.839063)">140</text>
</g>
</g>
<g id="text_72">
<text style="font-weight: 700; font-size: 28.3px; font-family: 'Liberation Serif', serif; text-anchor: middle; fill: #1e1e1e" x="19.851891" y="827.5" transform="rotate(-90 19.851891 827.5)">Percentage Increase in MAE</text>
</g>
</g>
<g id="patch_33">
<path d="M 91.127273 986.4  L 180.218182 986.4  L 180.218182 985  L 91.127273 985  z
" clip-path="url(#p377dfd3fb7)" style="fill: #9be0cd; stroke: #000000; stroke-width: 1.7; stroke-linejoin: miter"/>
</g>
<g id="patch_34">
<path d="M 202.490909 986.4  L 291.581818 986.4  L 291.581818 952  L 202.490909 952  z
" clip-path="url(#p377dfd3fb7)" style="fill: #ef786f; stroke: #000000; stroke-width: 1.7; stroke-linejoin: miter"/>
</g>
<g id="patch_35">
<path d="M 313.854545 986.4  L 402.945455 986.4  L 402.945455 887.2  L 313.854545 887.2  z
" clip-path="url(#p377dfd3fb7)" style="fill: #b8ec6e; stroke: #000000; stroke-width: 1.7; stroke-linejoin: miter"/>
</g>
<g id="patch_36">
<path d="M 425.218182 986.4  L 514.309091 986.4  L 514.309091 887  L 425.218182 887  z
" clip-path="url(#p377dfd3fb7)" style="fill: #b77fc4; stroke: #000000; stroke-width: 1.7; stroke-linejoin: miter"/>
</g>
<g id="patch_37">
<path d="M 536.581818 986.4  L 625.672727 986.4  L 625.672727 723  L 536.581818 723  z
" clip-path="url(#p377dfd3fb7)" style="fill: #eff473; stroke: #000000; stroke-width: 1.7; stroke-linejoin: miter"/>
</g>
<g id="text_73">
<text style="font-weight: 700; font-size: 26.5px; font-family: 'Liberation Serif', serif; text-anchor: start; fill: #1e1e1e" x="76.16" y="694.344516" transform="rotate(-0 76.16 694.344516)">(d)</text>
</g>
<g id="text_74">
<text style="font-weight: 700; font-size: 19.7px; font-family: 'Liberation Serif', serif; text-anchor: middle; fill: #1e1e1e" x="135.672727" y="975.204516" transform="rotate(-0 135.672727 975.204516)">0.7%</text>
</g>
<g id="text_75">
<text style="font-weight: 700; font-size: 19.7px; font-family: 'Liberation Serif', serif; text-anchor: middle; fill: #1e1e1e" x="247.036364" y="942.204516" transform="rotate(-0 247.036364 942.204516)">17.2%</text>
</g>
<g id="text_76">
<text style="font-weight: 700; font-size: 19.7px; font-family: 'Liberation Serif', serif; text-anchor: middle; fill: #1e1e1e" x="358.4" y="875.468516" transform="rotate(-0 358.4 875.468516)">49.6%</text>
</g>
<g id="text_77">
<text style="font-weight: 700; font-size: 19.7px; font-family: 'Liberation Serif', serif; text-anchor: middle; fill: #1e1e1e" x="469.763636" y="875.252516" transform="rotate(-0 469.763636 875.252516)">49.7%</text>
</g>
<g id="text_78">
<text style="font-weight: 700; font-size: 19.7px; font-family: 'Liberation Serif', serif; text-anchor: middle; fill: #1e1e1e" x="581.127273" y="698.132516" transform="rotate(-0 581.127273 698.132516)">131.7%</text>
</g>
<g id="patch_38">
<path d="M 64.4 986.4  L 64.4 668.6  " style="fill: none; stroke: #cccccc; stroke-width: 1.2; stroke-linejoin: miter; stroke-linecap: square"/>
</g>
<g id="patch_39">
<path d="M 652.4 986.4  L 652.4 668.6  " style="fill: none; stroke: #cccccc; stroke-width: 1.2; stroke-linejoin: miter; stroke-linecap: square"/>
</g>
<g id="patch_40">
<path d="M 64.4 986.4  L 652.4 986.4  " style="fill: none; stroke: #cccccc; stroke-width: 1.2; stroke-linejoin: miter; stroke-linecap: square"/>
</g>
<g id="patch_41">
<path d="M 64.4 668.6  L 652.4 668.6  " style="fill: none; stroke: #cccccc; stroke-width: 1.2; stroke-linejoin: miter; stroke-linecap: square"/>
</g>
<g id="text_79">
<text style="font-weight: 700; font-size: 30.5px; font-family: 'Liberation Serif', serif; text-anchor: middle; fill: #1e1e1e" x="358.4" y="662.104453" transform="rotate(-0 358.4 662.104453)">24h Horizon (Baseline MAE: 0.3345)</text>
</g>
</g>
<g id="axes_5">
<g id="patch_42">
<path d="M 737.5 986.4  L 1325.5 986.4  L 1325.5 668.6  L 737.5 668.6  z
" style="fill: #ffffff"/>
</g>
<g id="matplotlib.axis_9">
<g id="xtick_21">
<g id="line2d_95">
<path d="M 808.772727 986.4  L 808.772727 668.6  " clip-path="url(#pe0caf60ce7)" style="fill: none; stroke: #c8c8c8; stroke-linecap: square"/>
</g>
<g id="line2d_96"/>
<g id="text_80">
<text style="font-weight: 700; font-size: 24px; font-family: 'Liberation Serif', serif; fill: #1e1e1e" transform="translate(717.964307 1089.870201) rotate(-45)">without met</text>
</g>
</g>
<g id="xtick_22">
<g id="line2d_97">
<path d="M 920.136364 986.4  L 920.136364 668.6  " clip-path="url(#pe0caf60ce7)" style="fill: none; stroke: #c8c8c8; stroke-linecap: square"/>
</g>
<g id="line2d_98"/>
<g id="text_81">
<text style="font-weight: 700; font-size: 24px; font-family: 'Liberation Serif', serif; fill: #1e1e1e" transform="translate(736.262968 1182.887446) rotate(-45)">reaction only (with state)</text>
</g>
</g>
<g id="xtick_23">
<g id="line2d_99">
<path d="M 1031.5 986.4  L 1031.5 668.6  " clip-path="url(#pe0caf60ce7)" style="fill: none; stroke: #c8c8c8; stroke-linecap: square"/>
</g>
<g id="line2d_100"/>
<g id="text_82">
<text style="font-weight: 700; font-size: 24px; font-family: 'Liberation Serif', serif; fill: #1e1e1e" transform="translate(824.053432 1206.460618) rotate(-45)">reaction only (without state)</text>
</g>
</g>
<g id="xtick_24">
<g id="line2d_101">
<path d="M 1142.863636 986.4  L 1142.863636 668.6  " clip-path="url(#pe0caf60ce7)" style="fill: none; stroke: #c8c8c8; stroke-linecap: square"/>
</g>
<g id="line2d_102"/>
<g id="text_83">
<text style="font-weight: 700; font-size: 24px; font-family: 'Liberation Serif', serif; fill: #1e1e1e" transform="translate(1039.703828 1102.346216) rotate(-45)">diffusion only</text>
</g>
</g>
<g id="xtick_25">
<g id="line2d_103">
<path d="M 1254.227273 986.4  L 1254.227273 668.6  " clip-path="url(#pe0caf60ce7)" style="fill: none; stroke: #c8c8c8; stroke-linecap: square"/>
</g>
<g id="line2d_104"/>
<g id="text_84">
<text style="font-weight: 700; font-size: 24px; font-family: 'Liberation Serif', serif; fill: #1e1e1e" transform="translate(1145.438011 1107.803312) rotate(-45)">advection only</text>
</g>
</g>
</g>
<g id="matplotlib.axis_10">
<g id="ytick_28">
<g id="line2d_105">
<path d="M 737.5 973.623143  L 1325.5 973.623143  " clip-path="url(#pe0caf60ce7)" style="fill: none; stroke: #000000; stroke-opacity: 0.075; stroke-linecap: square"/>
</g>
<g id="line2d_106"/>
<g id="text_85">
<text style="font-weight: 700; font-size: 20px; font-family: 'Liberation Serif', serif; text-anchor: end; fill: #1e1e1e" x="734" y="981.062205" transform="rotate(-0 734 981.062205)">0</text>
</g>
</g>
<g id="ytick_29">
<g id="line2d_107">
<path d="M 737.5 908.766  L 1325.5 908.766  " clip-path="url(#pe0caf60ce7)" style="fill: none; stroke: #000000; stroke-opacity: 0.075; stroke-linecap: square"/>
</g>
<g id="line2d_108"/>
<g id="text_86">
<text style="font-weight: 700; font-size: 20px; font-family: 'Liberation Serif', serif; text-anchor: end; fill: #1e1e1e" x="734" y="916.205063" transform="rotate(-0 734 916.205063)">10</text>
</g>
</g>
<g id="ytick_30">
<g id="line2d_109">
<path d="M 737.5 843.908857  L 1325.5 843.908857  " clip-path="url(#pe0caf60ce7)" style="fill: none; stroke: #000000; stroke-opacity: 0.075; stroke-linecap: square"/>
</g>
<g id="line2d_110"/>
<g id="text_87">
<text style="font-weight: 700; font-size: 20px; font-family: 'Liberation Serif', serif; text-anchor: end; fill: #1e1e1e" x="734" y="851.34792" transform="rotate(-0 734 851.34792)">20</text>
</g>
</g>
<g id="ytick_31">
<g id="line2d_111">
<path d="M 737.5 779.051714  L 1325.5 779.051714  " clip-path="url(#pe0caf60ce7)" style="fill: none; stroke: #000000; stroke-opacity: 0.075; stroke-linecap: square"/>
</g>
<g id="line2d_112"/>
<g id="text_88">
<text style="font-weight: 700; font-size: 20px; font-family: 'Liberation Serif', serif; text-anchor: end; fill: #1e1e1e" x="734" y="786.490777" transform="rotate(-0 734 786.490777)">30</text>
</g>
</g>
<g id="ytick_32">
<g id="line2d_113">
<path d="M 737.5 714.194571  L 1325.5 714.194571  " clip-path="url(#pe0caf60ce7)" style="fill: none; stroke: #000000; stroke-opacity: 0.075; stroke-linecap: square"/>
</g>
<g id="line2d_114"/>
<g id="text_89">
<text style="font-weight: 700; font-size: 20px; font-family: 'Liberation Serif', serif; text-anchor: end; fill: #1e1e1e" x="734" y="721.633634" transform="rotate(-0 734 721.633634)">40</text>
</g>
</g>
<g id="text_90">
<text style="font-weight: 700; font-size: 28.3px; font-family: 'Liberation Serif', serif; text-anchor: middle; fill: #1e1e1e" x="702.951891" y="827.5" transform="rotate(-90 702.951891 827.5)">Percentage Increase in MAE</text>
</g>
</g>
<g id="line2d_115">
<path d="M 737.5 973.623143  L 1325.5 973.623143  " clip-path="url(#pe0caf60ce7)" style="fill: none; stroke: #808080; stroke-width: 1.2; stroke-linecap: square"/>
</g>
<g id="patch_43">
<path d="M 764.227273 973.623143  L 853.318182 973.623143  L 853.318182 973.688  L 764.227273 973.688  z
" clip-path="url(#pe0caf60ce7)" style="fill: #9be0cd; stroke: #000000; stroke-width: 1.7; stroke-linejoin: miter"/>
</g>
<g id="patch_44">
<path d="M 875.590909 973.623143  L 964.681818 973.623143  L 964.681818 912.008857  L 875.590909 912.008857  z
" clip-path="url(#pe0caf60ce7)" style="fill: #ef786f; stroke: #000000; stroke-width: 1.7; stroke-linejoin: miter"/>
</g>
<g id="patch_45">
<path d="M 986.954545 973.623143  L 1076.045455 973.623143  L 1076.045455 860.771714  L 986.954545 860.771714  z
" clip-path="url(#pe0caf60ce7)" style="fill: #b8ec6e; stroke: #000000; stroke-width: 1.7; stroke-linejoin: miter"/>
</g>
<g id="patch_46">
<path d="M 1098.318182 973.623143  L 1187.409091 973.623143  L 1187.409091 727.166  L 1098.318182 727.166  z
" clip-path="url(#pe0caf60ce7)" style="fill: #b77fc4; stroke: #000000; stroke-width: 1.7; stroke-linejoin: miter"/>
</g>
<g id="patch_47">
<path d="M 1209.681818 973.623143  L 1298.772727 973.623143  L 1298.772727 722.626  L 1209.681818 722.626  z
" clip-path="url(#pe0caf60ce7)" style="fill: #eff473; stroke: #000000; stroke-width: 1.7; stroke-linejoin: miter"/>
</g>
<g id="text_91">
<text style="font-weight: 700; font-size: 26.5px; font-family: 'Liberation Serif', serif; text-anchor: start; fill: #1e1e1e" x="749.26" y="694.344516" transform="rotate(-0 749.26 694.344516)">(e)</text>
</g>
<g id="text_92">
<text style="font-weight: 700; font-size: 19.7px; font-family: 'Liberation Serif', serif; text-anchor: middle; fill: #1e1e1e" x="808.772727" y="1007.215096" transform="rotate(-0 808.772727 1007.215096)">-0.0%</text>
</g>
<g id="text_93">
<text style="font-weight: 700; font-size: 19.7px; font-family: 'Liberation Serif', serif; text-anchor: middle; fill: #1e1e1e" x="920.136364" y="888.75623" transform="rotate(-0 920.136364 888.75623)">9.5%</text>
</g>
<g id="text_94">
<text style="font-weight: 700; font-size: 19.7px; font-family: 'Liberation Serif', serif; text-anchor: middle; fill: #1e1e1e" x="1031.5" y="837.519087" transform="rotate(-0 1031.5 837.519087)">17.4%</text>
</g>
<g id="text_95">
<text style="font-weight: 700; font-size: 19.7px; font-family: 'Liberation Serif', serif; text-anchor: middle; fill: #1e1e1e" x="1142.863636" y="703.653944" transform="rotate(-0 1142.863636 703.653944)">38.0%</text>
</g>
<g id="text_96">
<text style="font-weight: 700; font-size: 19.7px; font-family: 'Liberation Serif', serif; text-anchor: middle; fill: #1e1e1e" x="1254.227273" y="698.750744" transform="rotate(-0 1254.227273 698.750744)">38.7%</text>
</g>
<g id="patch_48">
<path d="M 737.5 986.4  L 737.5 668.6  " style="fill: none; stroke: #cccccc; stroke-width: 1.2; stroke-linejoin: miter; stroke-linecap: square"/>
</g>
<g id="patch_49">
<path d="M 1325.5 986.4  L 1325.5 668.6  " style="fill: none; stroke: #cccccc; stroke-width: 1.2; stroke-linejoin: miter; stroke-linecap: square"/>
</g>
<g id="patch_50">
<path d="M 737.5 986.4  L 1325.5 986.4  " style="fill: none; stroke: #cccccc; stroke-width: 1.2; stroke-linejoin: miter; stroke-linecap: square"/>
</g>
<g id="patch_51">
<path d="M 737.5 668.6  L 1325.5 668.6  " style="fill: none; stroke: #cccccc; stroke-width: 1.2; stroke-linejoin: miter; stroke-linecap: square"/>
</g>
<g id="text_97">
<text style="font-weight: 700; font-size: 30.5px; font-family: 'Liberation Serif', serif; text-anchor: middle; fill: #1e1e1e" x="1031.5" y="662.104453" transform="rotate(-0 1031.5 662.104453)">48h Horizon (Baseline MAE: 0.4462)</text>
</g>
</g>
<g id="axes_6">
<g id="patch_52">
<path d="M 1410.6 986.4  L 1998.6 986.4  L 1998.6 668.6  L 1410.6 668.6  z
" style="fill: #ffffff"/>
</g>
<g id="matplotlib.axis_11">
<g id="xtick_26">
<g id="line2d_116">
<path d="M 1481.872727 986.4  L 1481.872727 668.6  " clip-path="url(#pb6df1e5208)" style="fill: none; stroke: #c8c8c8; stroke-linecap: square"/>
</g>
<g id="line2d_117"/>
<g id="text_98">
<text style="font-weight: 700; font-size: 24px; font-family: 'Liberation Serif', serif; fill: #1e1e1e" transform="translate(1391.064307 1089.870201) rotate(-45)">without met</text>
</g>
</g>
<g id="xtick_27">
<g id="line2d_118">
<path d="M 1593.236364 986.4  L 1593.236364 668.6  " clip-path="url(#pb6df1e5208)" style="fill: none; stroke: #c8c8c8; stroke-linecap: square"/>
</g>
<g id="line2d_119"/>
<g id="text_99">
<text style="font-weight: 700; font-size: 24px; font-family: 'Liberation Serif', serif; fill: #1e1e1e" transform="translate(1409.362968 1182.887446) rotate(-45)">reaction only (with state)</text>
</g>
</g>
<g id="xtick_28">
<g id="line2d_120">
<path d="M 1704.6 986.4  L 1704.6 668.6  " clip-path="url(#pb6df1e5208)" style="fill: none; stroke: #c8c8c8; stroke-linecap: square"/>
</g>
<g id="line2d_121"/>
<g id="text_100">
<text style="font-weight: 700; font-size: 24px; font-family: 'Liberation Serif', serif; fill: #1e1e1e" transform="translate(1497.153432 1206.460618) rotate(-45)">reaction only (without state)</text>
</g>
</g>
<g id="xtick_29">
<g id="line2d_122">
<path d="M 1815.963636 986.4  L 1815.963636 668.6  " clip-path="url(#pb6df1e5208)" style="fill: none; stroke: #c8c8c8; stroke-linecap: square"/>
</g>
<g id="line2d_123"/>
<g id="text_101">
<text style="font-weight: 700; font-size: 24px; font-family: 'Liberation Serif', serif; fill: #1e1e1e" transform="translate(1712.803828 1102.346216) rotate(-45)">diffusion only</text>
</g>
</g>
<g id="xtick_30">
<g id="line2d_124">
<path d="M 1927.327273 986.4  L 1927.327273 668.6  " clip-path="url(#pb6df1e5208)" style="fill: none; stroke: #c8c8c8; stroke-linecap: square"/>
</g>
<g id="line2d_125"/>
<g id="text_102">
<text style="font-weight: 700; font-size: 24px; font-family: 'Liberation Serif', serif; fill: #1e1e1e" transform="translate(1818.538011 1107.803312) rotate(-45)">advection only</text>
</g>
</g>
</g>
<g id="matplotlib.axis_12">
<g id="ytick_33">
<g id="line2d_126">
<path d="M 1410.6 974.290914  L 1998.6 974.290914  " clip-path="url(#pb6df1e5208)" style="fill: none; stroke: #000000; stroke-opacity: 0.075; stroke-linecap: square"/>
</g>
<g id="line2d_127"/>
<g id="text_103">
<text style="font-weight: 700; font-size: 20px; font-family: 'Liberation Serif', serif; text-anchor: end; fill: #1e1e1e" x="1407.1" y="981.729976" transform="rotate(-0 1407.1 981.729976)">0</text>
</g>
</g>
<g id="ytick_34">
<g id="line2d_128">
<path d="M 1410.6 931.951452  L 1998.6 931.951452  " clip-path="url(#pb6df1e5208)" style="fill: none; stroke: #000000; stroke-opacity: 0.075; stroke-linecap: square"/>
</g>
<g id="line2d_129"/>
<g id="text_104">
<text style="font-weight: 700; font-size: 20px; font-family: 'Liberation Serif', serif; text-anchor: end; fill: #1e1e1e" x="1407.1" y="939.390515" transform="rotate(-0 1407.1 939.390515)">5</text>
</g>
</g>
<g id="ytick_35">
<g id="line2d_130">
<path d="M 1410.6 889.61199  L 1998.6 889.61199  " clip-path="url(#pb6df1e5208)" style="fill: none; stroke: #000000; stroke-opacity: 0.075; stroke-linecap: square"/>
</g>
<g id="line2d_131"/>
<g id="text_105">
<text style="font-weight: 700; font-size: 20px; font-family: 'Liberation Serif', serif; text-anchor: end; fill: #1e1e1e" x="1407.1" y="897.051053" transform="rotate(-0 1407.1 897.051053)">10</text>
</g>
</g>
<g id="ytick_36">
<g id="line2d_132">
<path d="M 1410.6 847.272529  L 1998.6 847.272529  " clip-path="url(#pb6df1e5208)" style="fill: none; stroke: #000000; stroke-opacity: 0.075; stroke-linecap: square"/>
</g>
<g id="line2d_133"/>
<g id="text_106">
<text style="font-weight: 700; font-size: 20px; font-family: 'Liberation Serif', serif; text-anchor: end; fill: #1e1e1e" x="1407.1" y="854.711591" transform="rotate(-0 1407.1 854.711591)">15</text>
</g>
</g>
<g id="ytick_37">
<g id="line2d_134">
<path d="M 1410.6 804.933067  L 1998.6 804.933067  " clip-path="url(#pb6df1e5208)" style="fill: none; stroke: #000000; stroke-opacity: 0.075; stroke-linecap: square"/>
</g>
<g id="line2d_135"/>
<g id="text_107">
<text style="font-weight: 700; font-size: 20px; font-family: 'Liberation Serif', serif; text-anchor: end; fill: #1e1e1e" x="1407.1" y="812.372129" transform="rotate(-0 1407.1 812.372129)">20</text>
</g>
</g>
<g id="ytick_38">
<g id="line2d_136">
<path d="M 1410.6 762.593605  L 1998.6 762.593605  " clip-path="url(#pb6df1e5208)" style="fill: none; stroke: #000000; stroke-opacity: 0.075; stroke-linecap: square"/>
</g>
<g id="line2d_137"/>
<g id="text_108">
<text style="font-weight: 700; font-size: 20px; font-family: 'Liberation Serif', serif; text-anchor: end; fill: #1e1e1e" x="1407.1" y="770.032668" transform="rotate(-0 1407.1 770.032668)">25</text>
</g>
</g>
<g id="ytick_39">
<g id="line2d_138">
<path d="M 1410.6 720.254143  L 1998.6 720.254143  " clip-path="url(#pb6df1e5208)" style="fill: none; stroke: #000000; stroke-opacity: 0.075; stroke-linecap: square"/>
</g>
<g id="line2d_139"/>
<g id="text_109">
<text style="font-weight: 700; font-size: 20px; font-family: 'Liberation Serif', serif; text-anchor: end; fill: #1e1e1e" x="1407.1" y="727.693206" transform="rotate(-0 1407.1 727.693206)">30</text>
</g>
</g>
<g id="ytick_40">
<g id="line2d_140">
<path d="M 1410.6 677.914682  L 1998.6 677.914682  " clip-path="url(#pb6df1e5208)" style="fill: none; stroke: #000000; stroke-opacity: 0.075; stroke-linecap: square"/>
</g>
<g id="line2d_141"/>
<g id="text_110">
<text style="font-weight: 700; font-size: 20px; font-family: 'Liberation Serif', serif; text-anchor: end; fill: #1e1e1e" x="1407.1" y="685.353744" transform="rotate(-0 1407.1 685.353744)">35</text>
</g>
</g>
<g id="text_111">
<text style="font-weight: 700; font-size: 28.3px; font-family: 'Liberation Serif', serif; text-anchor: middle; fill: #1e1e1e" x="1376.051891" y="827.5" transform="rotate(-90 1376.051891 827.5)">Percentage Increase in MAE</text>
</g>
</g>
<g id="line2d_142">
<path d="M 1410.6 974.290914  L 1998.6 974.290914  " clip-path="url(#pb6df1e5208)" style="fill: none; stroke: #808080; stroke-width: 1.2; stroke-linecap: square"/>
</g>
<g id="patch_53">
<path d="M 1437.327273 974.290914  L 1526.418182 974.290914  L 1526.418182 974.375593  L 1437.327273 974.375593  z
" clip-path="url(#pb6df1e5208)" style="fill: #9be0cd; stroke: #000000; stroke-width: 1.7; stroke-linejoin: miter"/>
</g>
<g id="patch_54">
<path d="M 1548.690909 974.290914  L 1637.781818 974.290914  L 1637.781818 882.837677  L 1548.690909 882.837677  z
" clip-path="url(#pb6df1e5208)" style="fill: #ef786f; stroke: #000000; stroke-width: 1.7; stroke-linejoin: miter"/>
</g>
<g id="patch_55">
<path d="M 1660.054545 974.290914  L 1749.145455 974.290914  L 1749.145455 876.910152  L 1660.054545 876.910152  z
" clip-path="url(#pb6df1e5208)" style="fill: #b8ec6e; stroke: #000000; stroke-width: 1.7; stroke-linejoin: miter"/>
</g>
<g id="patch_56">
<path d="M 1771.418182 974.290914  L 1860.509091 974.290914  L 1860.509091 732.955982  L 1771.418182 732.955982  z
" clip-path="url(#pb6df1e5208)" style="fill: #b77fc4; stroke: #000000; stroke-width: 1.7; stroke-linejoin: miter"/>
</g>
<g id="patch_57">
<path d="M 1882.781818 974.290914  L 1971.872727 974.290914  L 1971.872727 721.947722  L 1882.781818 721.947722  z
" clip-path="url(#pb6df1e5208)" style="fill: #eff473; stroke: #000000; stroke-width: 1.7; stroke-linejoin: miter"/>
</g>
<g id="text_112">
<text style="font-weight: 700; font-size: 26.5px; font-family: 'Liberation Serif', serif; text-anchor: start; fill: #1e1e1e" x="1422.36" y="694.613656" transform="rotate(-0 1422.36 694.613656)">(f)</text>
</g>
<g id="text_113">
<text style="font-weight: 700; font-size: 19.7px; font-family: 'Liberation Serif', serif; text-anchor: middle; fill: #1e1e1e" x="1481.872727" y="1013.849223" transform="rotate(-0 1481.872727 1013.849223)">-0.0%</text>
</g>
<g id="text_114">
<text style="font-weight: 700; font-size: 19.7px; font-family: 'Liberation Serif', serif; text-anchor: middle; fill: #1e1e1e" x="1593.236364" y="853.638515" transform="rotate(-0 1593.236364 853.638515)">10.8%</text>
</g>
<g id="text_115">
<text style="font-weight: 700; font-size: 19.7px; font-family: 'Liberation Serif', serif; text-anchor: middle; fill: #1e1e1e" x="1704.6" y="847.71099" transform="rotate(-0 1704.6 847.71099)">11.5%</text>
</g>
<g id="text_116">
<text style="font-weight: 700; font-size: 19.7px; font-family: 'Liberation Serif', serif; text-anchor: middle; fill: #1e1e1e" x="1815.963636" y="703.75682" transform="rotate(-0 1815.963636 703.75682)">28.5%</text>
</g>
<g id="text_117">
<text style="font-weight: 700; font-size: 19.7px; font-family: 'Liberation Serif', serif; text-anchor: middle; fill: #1e1e1e" x="1927.327273" y="692.74856" transform="rotate(-0 1927.327273 692.74856)">29.8%</text>
</g>
<g id="patch_58">
<path d="M 1410.6 986.4  L 1410.6 668.6  " style="fill: none; stroke: #cccccc; stroke-width: 1.2; stroke-linejoin: miter; stroke-linecap: square"/>
</g>
<g id="patch_59">
<path d="M 1998.6 986.4  L 1998.6 668.6  " style="fill: none; stroke: #cccccc; stroke-width: 1.2; stroke-linejoin: miter; stroke-linecap: square"/>
</g>
<g id="patch_60">
<path d="M 1410.6 986.4  L 1998.6 986.4  " style="fill: none; stroke: #cccccc; stroke-width: 1.2; stroke-linejoin: miter; stroke-linecap: square"/>
</g>
<g id="patch_61">
<path d="M 1410.6 668.6  L 1998.6 668.6  " style="fill: none; stroke: #cccccc; stroke-width: 1.2; stroke-linejoin: miter; stroke-linecap: square"/>
</g>
<g id="text_118">
<text style="font-weight: 700; font-size: 30.5px; font-family: 'Liberation Serif', serif; text-anchor: middle; fill: #1e1e1e" x="1704.6" y="662.104453" transform="rotate(-0 1704.6 662.104453)">72h Horizon (Baseline MAE: 0.5731)</text>
</g>
</g>
<g id="text_119">
<text style="font-weight: 700; font-size: 32.7px; font-family: 'Liberation Serif', serif; text-anchor: middle; fill: #1e1e1e" x="999.5" y="24" transform="rotate(-0 999.5 24)">Operator Importance Across Different Time Horizons</text>
</g>
</g>
<defs>
<clipPath id="p8fc269b6f9">
<rect x="64.4" y="76.5" width="588" height="317.8"/>
</clipPath>
<clipPath id="p56052e3ebc">
<rect x="737.5" y="76.5" width="588" height="317.8"/>
</clipPath>
<clipPath id="p4278c72d68">
<rect x="1410.6" y="76.5" width="588" height="317.8"/>
</clipPath>
<clipPath id="p377dfd3fb7">
<rect x="64.4" y="668.6" width="588" height="317.8"/>
</clipPath>
<clipPath id="pe0caf60ce7">
<rect x="737.5" y="668.6" width="588" height="317.8"/>
</clipPath>
<clipPath id="pb6df1e5208">
<rect x="1410.6" y="668.6" width="588" height="317.8"/>
</clipPath>
</defs>
</svg>

</body></html>
